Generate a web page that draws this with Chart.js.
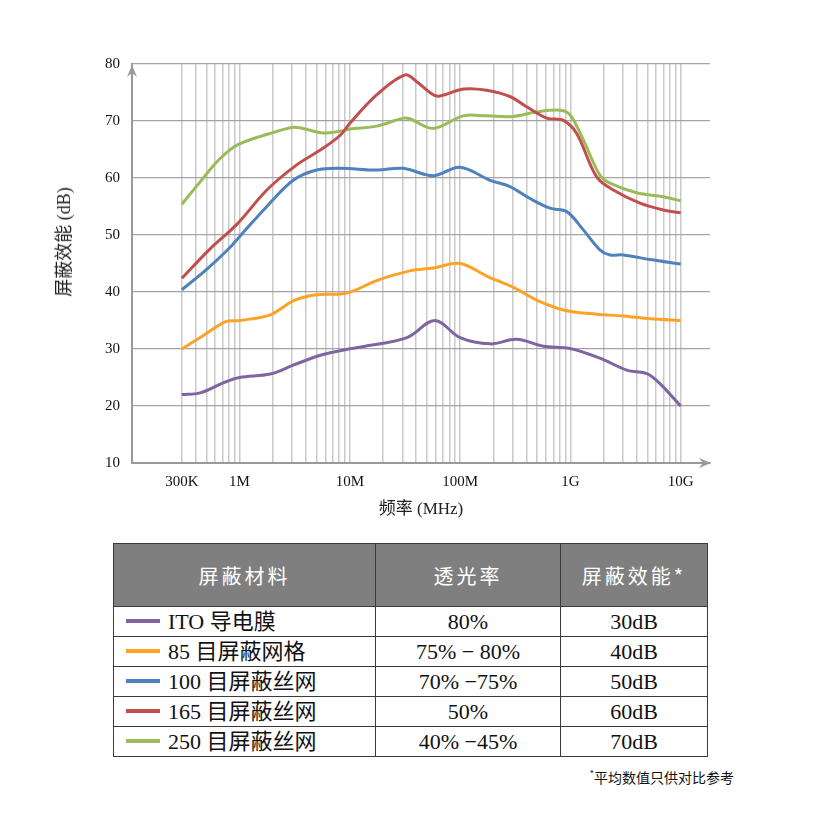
<!DOCTYPE html>
<html>
<head>
<meta charset="utf-8">
<script src="https://cdn.jsdelivr.net/npm/chart.js@4.4.1/dist/chart.umd.min.js"></script>
<style>
  body { margin: 0; background: #fff; }
  #wrap { position: relative; width: 820px; height: 820px; }
  #chartBox { position: absolute; left: 0; top: 0; }
  #yTitle {
    position: absolute; left: 62px; top: 242px;
    transform: translate(-50%, -50%) rotate(-90deg);
    white-space: nowrap; font-family: 'Liberation Serif', 'Noto Sans CJK SC', serif;
    font-size: 18px; color: #222;
  }
  #matTable {
    position: absolute; left: 113px; top: 543px;
    border-collapse: collapse; table-layout: fixed; width: 594px;
    font-family: 'Liberation Serif', 'Noto Sans CJK SC', serif;
    color: #111;
  }
  #matTable td, #matTable th { border: 1.5px solid #3a3a3a; padding: 0; }
  #matTable th {
    background: #7f7f7f; color: #fff; height: 62px;
    font-family: 'Noto Sans CJK SC', sans-serif; font-weight: normal;
    font-size: 20px; letter-spacing: 3px;
  }
  #matTable td { height: 29px; line-height: 28px; font-size: 22px; text-align: center; }
  #matTable td.name { text-align: left; padding-left: 12px; }
  .swatch { display: inline-block; width: 34px; height: 4px; margin-right: 8px; vertical-align: middle; position: relative; top: -2px; }
  #note {
    position: absolute; right: 86px; top: 767px;
    font-family: 'Noto Sans CJK SC', sans-serif; font-size: 14px; color: #111;
  }
  #note sup { font-size: 9px; }
</style>
</head>
<body>
<div id="wrap">
  <canvas id="chartBox" width="820" height="530"></canvas>
  <div id="yTitle">屏蔽效能 (dB)</div>
  <table id="matTable"></table>
  <div id="note"><sup>*</sup>平均数值只供对比参考</div>
</div>
<script>
// 横轴刻度 (MHz)
const xTickValues = [0.3, 1, 10, 100, 1000, 10000];
const xTickText = ['300K', '1M', '10M', '100M', '1G', '10G'];

// 各材料曲线 (频率 MHz / 屏蔽效能 dB)
const itoFreq = [0.3, 0.44, 0.72, 1.0, 1.9, 3.1, 5.4, 8.2, 13, 33, 59, 100, 187, 326, 568, 990, 1850, 3240, 5270, 10000];
const itoDb   = [22, 22.3, 24.1, 25, 25.6, 27.2, 28.9, 29.7, 30.4, 32, 35, 32, 30.9, 31.7, 30.5, 30.1, 28.4, 26.3, 25.4, 20];

const m85Freq = [0.3, 0.44, 0.75, 1.0, 1.9, 3.1, 5.0, 9.4, 17.5, 35, 57, 100, 174, 304, 530, 926, 1730, 3020, 5270, 10000];
const m85Db   = [30, 32, 34.8, 35, 36, 38.5, 39.5, 39.8, 42, 43.7, 44.2, 45, 42.8, 40.8, 38.3, 36.7, 36.1, 35.8, 35.3, 35];

const m100Freq = [0.3, 0.48, 0.79, 1.0, 1.77, 3.07, 5.0, 8.2, 17.5, 30.5, 57, 100, 187, 283, 430, 653, 926, 1310, 1850, 2285, 3020, 5270, 10000];
const m100Db   = [40.4, 43.6, 47.5, 49.7, 55, 59.6, 61.4, 61.7, 61.4, 61.7, 60.4, 61.9, 59.6, 58.5, 56.4, 54.7, 54.1, 50.9, 47.4, 46.5, 46.5, 45.7, 44.9];

const m165Freq = [0.3, 0.53, 0.96, 1.77, 3.3, 5.4, 8.2, 10, 17.5, 31.7, 40.4, 57, 66, 107, 174, 283, 401, 610, 863, 1140, 1730, 2450, 4270, 6950, 10000];
const m165Db   = [42.4, 47.4, 52, 57.9, 62.3, 64.9, 67.5, 69.6, 74.6, 78.1, 76.9, 74.6, 74.4, 75.6, 75.4, 74.3, 72.5, 70.5, 70.1, 67.8, 60.2, 57.9, 55.6, 54.4, 53.9];

const m250Freq = [0.3, 0.43, 0.65, 0.96, 1.89, 3.07, 3.76, 5.71, 8.15, 10, 17.5, 30.5, 35, 57, 107, 174, 304, 495, 805, 991, 1310, 1850, 2285, 3990, 6950, 10000];
const m250Db   = [55.4, 59.1, 63.2, 65.8, 67.8, 68.9, 68.7, 67.9, 68.2, 68.6, 69.1, 70.5, 70.4, 68.7, 70.9, 70.9, 70.8, 71.6, 71.9, 71.1, 66.7, 60.5, 59.1, 57.4, 56.7, 56.0];

// 表格内容
const materials = ['ITO 导电膜', '85 目屏蔽网格', '100 目屏蔽丝网', '165 目屏蔽丝网', '250 目屏蔽丝网'];
const transmit  = ['80%', '75% − 80%', '70% −75%', '50%', '40% −45%'];
const shieldAvg = ['30dB', '40dB', '50dB', '60dB', '70dB'];
const colors    = ['#8064a2', '#fca326', '#4f81bd', '#c0504d', '#9bbb59'];

const seriesFreq = [itoFreq, m85Freq, m100Freq, m165Freq, m250Freq];
const seriesDb   = [itoDb, m85Db, m100Db, m165Db, m250Db];

// 对数网格 0.3 ... 10000
const xGridValues = [];
for (let e = -1; e <= 4; e++) {
    for (let m = 1; m <= 9; m++) {
        const v = Number((m * Math.pow(10, e)).toPrecision(6));
        if (v >= 0.3 && v <= 10000) xGridValues.push(v);
    }
}

const FONT = "'Liberation Serif', 'Noto Sans CJK SC', serif";

// 坐标轴箭头
function arrowHead(ctx, x, y, dx, dy) {
    const L = 12, W = 5, N = 4;
    const px = -dy, py = dx;
    ctx.beginPath();
    ctx.moveTo(x, y);
    ctx.lineTo(x - dx * L + px * W, y - dy * L + py * W);
    ctx.lineTo(x - dx * (L - N), y - dy * (L - N));
    ctx.lineTo(x - dx * L - px * W, y - dy * L - py * W);
    ctx.closePath();
    ctx.fill();
}
const axisArrows = {
    id: 'axisArrows',
    afterDraw(chart) {
        const { ctx, chartArea: a } = chart;
        ctx.save();
        ctx.fillStyle = '#9a9a9a';
        arrowHead(ctx, a.left, a.top + 1, 0, -1);
        arrowHead(ctx, a.right + 1, a.bottom, 1, 0);
        ctx.restore();
    }
};

new Chart(document.getElementById('chartBox').getContext('2d'), {
    type: 'line',
    data: {
        datasets: materials.map((name, i) => ({
            label: name,
            data: seriesFreq[i].map((f, j) => ({ x: f, y: seriesDb[i][j] })),
            borderColor: colors[i],
            borderWidth: 3,
            pointRadius: 0,
            tension: 0.35,
            fill: false
        }))
    },
    options: {
        responsive: false,
        animation: false,
        layout: { padding: { left: 0, top: 64, right: 110, bottom: 0 } },
        plugins: { legend: { display: false }, tooltip: { enabled: false } },
        scales: {
            x: {
                type: 'logarithmic',
                min: 0.106,
                max: 18435,
                afterBuildTicks: s => { s.ticks = xGridValues.map(v => ({ value: v })); },
                afterFit: s => { s.height = 67; },
                ticks: {
                    autoSkip: false, maxRotation: 0, padding: 10,
                    color: '#111', font: { family: FONT, size: 15 },
                    callback: v => { const k = xTickValues.indexOf(v); return k >= 0 ? xTickText[k] : ''; }
                },
                grid: { color: '#c9c9c9', lineWidth: 1.5, drawTicks: false },
                border: { color: '#9a9a9a', width: 2 },
                title: {
                    display: true, text: '频率 (MHz)', color: '#222',
                    font: { family: FONT, size: 17 }, padding: { top: 0, bottom: 10 }
                }
            },
            y: {
                min: 10,
                max: 80,
                afterFit: s => { s.width = 132; },
                ticks: { stepSize: 10, padding: 12, color: '#111', font: { family: FONT, size: 15 } },
                grid: {
                    color: c => c.tick && c.tick.value === 10 ? 'rgba(0,0,0,0)' : '#a5a5a5',
                    lineWidth: 1.3, drawTicks: false
                },
                border: { color: '#9a9a9a', width: 2 }
            }
        }
    },
    plugins: [axisArrows]
});

// 表格
const table = document.getElementById('matTable');
table.innerHTML =
    '<colgroup><col style="width:262px"><col style="width:185px"><col style="width:147px"></colgroup>' +
    '<tr><th>屏蔽材料</th><th>透光率</th><th>屏蔽效能*</th></tr>' +
    materials.map((m, i) =>
        '<tr><td class="name"><span class="swatch" style="background:' + colors[i] + '"></span>' + m +
        '</td><td>' + transmit[i] + '</td><td>' + shieldAvg[i] + '</td></tr>').join('');
</script>
</body>
</html>
